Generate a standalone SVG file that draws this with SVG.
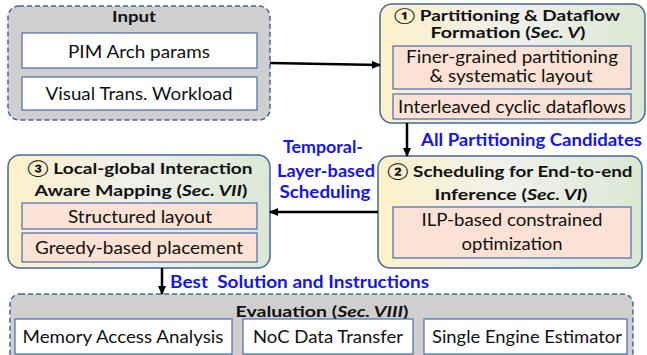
<svg xmlns="http://www.w3.org/2000/svg" width="647" height="355" viewBox="0 0 647 355">
<defs>
<linearGradient id="g" x1="0" y1="0" x2="1" y2="0">
<stop offset="0" stop-color="#fdf1c9"/>
<stop offset="0.5" stop-color="#f0f0ec"/>
<stop offset="1" stop-color="#dbe8d4"/>
</linearGradient>
<marker id="ah" markerWidth="10" markerHeight="10" refX="8" refY="5" orient="auto" markerUnits="userSpaceOnUse">
<path d="M0,1 L9,5 L0,9 Z" fill="#000"/>
</marker>
<style>
.gray{fill:#d0cfcf;stroke:#44679e;stroke-width:1.5;stroke-dasharray:5 3}
.stage{fill:url(#g);stroke:#44679e;stroke-width:1.5}
.wb{fill:#fff;stroke:#4a6ab0;stroke-width:1.2}
.pb{fill:#fbe2d4;stroke:#4a6ab0;stroke-width:1.2}
text{font-family:Lato,"DejaVu Sans",sans-serif;fill:#111}
.t{font-size:16px;font-weight:bold}
.ts{font-size:15px;font-weight:bold}
.n{font-size:18px}
.ns{font-size:16.5px}
.bl{font-size:16.5px;font-weight:bold;fill:#1414f0}
.c{stroke:#000;stroke-width:2.5;fill:none;marker-end:url(#ah)}
</style>
</defs>

<g id="input">
<rect class="gray" x="8" y="6" width="262" height="114" rx="11"/>
<text class="t" x="134" y="22" text-anchor="middle" textLength="44" lengthAdjust="spacingAndGlyphs">Input</text>
<rect class="wb" x="22" y="33" width="235" height="35"/>
<text class="n" x="139" y="58" text-anchor="middle" textLength="142" lengthAdjust="spacingAndGlyphs">PIM Arch params</text>
<rect class="wb" x="22" y="77" width="235" height="33"/>
<text class="n" x="139" y="100" text-anchor="middle" textLength="187" lengthAdjust="spacingAndGlyphs">Visual Trans. Workload</text>
</g>

<g id="partitioning">
<rect class="stage" x="380" y="4" width="265" height="119" rx="12"/>
<text class="ts" x="507" y="21" text-anchor="middle" textLength="226" lengthAdjust="spacingAndGlyphs">① Partitioning &amp; Dataflow</text>
<text class="ts" x="508" y="38" text-anchor="middle" textLength="155" lengthAdjust="spacingAndGlyphs">Formation (<tspan font-style="italic">Sec. V</tspan>)</text>
<rect class="pb" x="393" y="46" width="238" height="43"/>
<text class="ns" x="512" y="63" text-anchor="middle" textLength="212" lengthAdjust="spacingAndGlyphs">Finer-grained partitioning</text>
<text class="ns" x="511" y="82" text-anchor="middle" textLength="163" lengthAdjust="spacingAndGlyphs">&amp; systematic layout</text>
<rect class="pb" x="393" y="94" width="238" height="25"/>
<text class="n" x="512" y="113" text-anchor="middle" textLength="228" lengthAdjust="spacingAndGlyphs">Interleaved cyclic dataflows</text>
</g>

<g id="scheduling">
<rect class="stage" x="378" y="156" width="264" height="112" rx="12"/>
<text class="t" x="510" y="177" text-anchor="middle" textLength="245" lengthAdjust="spacingAndGlyphs">② Scheduling for End-to-end</text>
<text class="t" x="511" y="200" text-anchor="middle" textLength="153" lengthAdjust="spacingAndGlyphs">Inference (<tspan font-style="italic">Sec. VI</tspan>)</text>
<rect class="pb" x="393" y="207" width="238" height="51"/>
<text class="n" x="512" y="226" text-anchor="middle" textLength="181" lengthAdjust="spacingAndGlyphs">ILP-based constrained</text>
<text class="n" x="512" y="250" text-anchor="middle" textLength="101" lengthAdjust="spacingAndGlyphs">optimization</text>
</g>

<g id="mapping">
<rect class="stage" x="8" y="155" width="262" height="113" rx="12"/>
<text class="t" x="140" y="174" text-anchor="middle" textLength="225" lengthAdjust="spacingAndGlyphs">③ Local-global Interaction</text>
<text class="t" x="141" y="196" text-anchor="middle" textLength="213" lengthAdjust="spacingAndGlyphs">Aware Mapping (<tspan font-style="italic">Sec. VII</tspan>)</text>
<rect class="pb" x="22" y="203" width="235" height="26"/>
<text class="n" x="140" y="223" text-anchor="middle" textLength="144" lengthAdjust="spacingAndGlyphs">Structured layout</text>
<rect class="pb" x="22" y="233" width="235" height="29"/>
<text class="n" x="139" y="254" text-anchor="middle" textLength="208" lengthAdjust="spacingAndGlyphs">Greedy-based placement</text>
</g>

<g id="evaluation">
<rect class="gray" x="10" y="294" width="623" height="75" rx="10"/>
<text class="t" x="322" y="317" text-anchor="middle" textLength="173" lengthAdjust="spacingAndGlyphs">Evaluation (<tspan font-style="italic">Sec. VIII</tspan>)</text>
<rect class="wb" x="15" y="319" width="217" height="35"/>
<text class="n" x="123" y="343" text-anchor="middle" textLength="201" lengthAdjust="spacingAndGlyphs">Memory Access Analysis</text>
<rect class="wb" x="243" y="319" width="170" height="35"/>
<text class="n" x="328" y="343" text-anchor="middle" textLength="150" lengthAdjust="spacingAndGlyphs">NoC Data Transfer</text>
<rect class="wb" x="424" y="319" width="203" height="35"/>
<text class="n" x="527" y="343" text-anchor="middle" textLength="190" lengthAdjust="spacingAndGlyphs">Single Engine Estimator</text>
</g>

<g id="connectors">
<line class="c" x1="270" y1="63" x2="380" y2="65"/>
<line class="c" x1="407" y1="123" x2="407" y2="156"/>
<line class="c" x1="378" y1="212" x2="270" y2="212"/>
<line class="c" x1="162" y1="268" x2="162" y2="294"/>
<text class="bl" x="421" y="146" textLength="221" lengthAdjust="spacingAndGlyphs">All Partitioning Candidates</text>
<text class="bl" x="323" y="153" text-anchor="middle" textLength="80" lengthAdjust="spacingAndGlyphs">Temporal-</text>
<text class="bl" x="326" y="177" text-anchor="middle" textLength="98" lengthAdjust="spacingAndGlyphs">Layer-based</text>
<text class="bl" x="325" y="198" text-anchor="middle" textLength="91" lengthAdjust="spacingAndGlyphs">Scheduling</text>
<text class="bl" x="170" y="288" textLength="259" lengthAdjust="spacingAndGlyphs" xml:space="preserve">Best  Solution and Instructions</text>
</g>
</svg>
